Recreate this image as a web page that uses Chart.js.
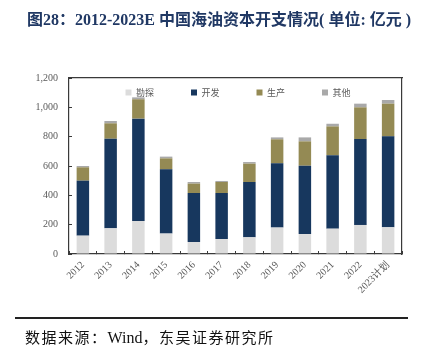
<!DOCTYPE html>
<html>
<head>
<meta charset="utf-8">
<script src="https://cdn.jsdelivr.net/npm/chart.js@4.4.0/dist/chart.umd.min.js"></script>
<style>
  html, body { margin: 0; padding: 0; background: #fff; }
  body { width: 429px; height: 351px; position: relative; overflow: hidden; }
  #wrap { position: absolute; left: 0; top: 0; width: 429px; height: 351px; }
  #title { position: absolute; left: 27px; top: 8px; white-space: nowrap; font-size: 16px; font-weight: bold; color: #203864; line-height: 20px; font-family: "Liberation Serif", "Noto Sans CJK SC", serif; }
  #title .cjk { font-family: "Noto Sans CJK SC", sans-serif; }
  #rule { position: absolute; left: 15px; top: 317px; width: 393px; height: 2px; background: #222; }
  #source { position: absolute; left: 25px; top: 327px; white-space: nowrap; font-size: 16px; color: #111; line-height: 20px; font-family: "Liberation Serif", "Noto Sans CJK SC", serif; }
  #source .cjk { font-family: "Noto Sans CJK SC", sans-serif; font-size: 15px; letter-spacing: 1.5px; }
</style>
</head>
<body>
<div id="wrap"><canvas id="c" width="429" height="351"></canvas></div>
<div id="title"><span class="cjk">图</span>28<span class="cjk">：</span>2012-2023E <span class="cjk">中国海油资本开支情况</span>( <span class="cjk">单位</span>: <span class="cjk">亿元</span> )</div>
<div id="rule"></div>
<div id="source"><span class="cjk">数据来源：</span>Wind<span class="cjk">，东吴证券研究所</span></div>
<script>
const categories = ['2012','2013','2014','2015','2016','2017','2018','2019','2020','2021','2022','2023计划'];
const exploration = [125,175,225,139,82,102,114,180,136,173,198,182];
const development = [375,611,698,438,334,314,377,438,466,500,586,620];
const production  = [91,105,132,75,64,75,125,164,166,197,216,223];
const other       = [9,16,13,12,11,7,11,13,27,18,25,25];
const seriesNames = ['勘探','开发','生产','其他'];
const yTicks = [0,200,400,600,800,1000,1200];

const colors = ['#dcdcdc','#17375e','#948a54','#a9a9a9'];
const seriesData = [exploration, development, production, other];

const datasets = seriesNames.map((n, i) => ({
  label: n,
  data: seriesData[i],
  backgroundColor: colors[i],
  borderWidth: 0,
  barPercentage: 0.45,
  categoryPercentage: 1.0,
  stack: 's'
}));

const axisColor = '#3a3a3a';
const tickFontY = { family: 'Liberation Serif', size: 10 };
const tickFontX = { family: "'Liberation Serif', 'Noto Sans CJK SC'", size: 10 };

// lay the in-plot legend out in one row across the plot area
const legendRow = {
  id: 'legendRow',
  afterInit(chart) {
    if (chart.legend) chart.legend.isHorizontal = () => true;
  },
  afterLayout(chart) {
    const lg = chart.legend, ca = chart.chartArea;
    if (!lg || !ca) return;
    const w = lg.width;
    lg.left = ca.left + 16;
    lg.right = lg.left + w;
    lg.top = ca.top;
  }
};

new Chart(document.getElementById('c'), {
  type: 'bar',
  data: { labels: categories, datasets },
  plugins: [legendRow],
  options: {
    responsive: false,
    animation: false,
    devicePixelRatio: 1,
    layout: { padding: { left: 0, right: 27, top: 0, bottom: 37 } },
    plugins: {
      title: { display: false },
      tooltip: { enabled: false },
      legend: {
        position: 'chartArea',
        align: 'center',
        labels: {
          boxWidth: 6,
          boxHeight: 6,
          padding: 10,
          color: '#595959',
          font: { family: "'Noto Sans CJK SC'", size: 9 },
          generateLabels: (chart) => chart.data.datasets.map((ds, i) => ({
            text: ds.label + '\u3000\u3000\u3000',
            fillStyle: ds.backgroundColor,
            strokeStyle: ds.backgroundColor,
            lineWidth: 0,
            hidden: false,
            datasetIndex: i,
            fontColor: '#595959'
          }))
        }
      }
    },
    scales: {
      x: {
        stacked: true,
        position: 'bottom',
        grid: { display: true, drawOnChartArea: false, drawTicks: true, tickLength: -3, color: axisColor, offset: true },
        border: { display: true, color: axisColor, width: 1.2 },
        ticks: { color: '#595959', font: tickFontX, minRotation: 45, maxRotation: 45, padding: 8, autoSkip: false },
        afterFit: (s) => { s.height = 60; }
      },
      x2: {
        position: 'top',
        display: true,
        grid: { display: false },
        ticks: { display: false },
        border: { display: true, color: axisColor, width: 1.2 },
        afterFit: (s) => { s.height = 78; }
      },
      y: {
        stacked: true,
        min: 0,
        max: 1200,
        afterBuildTicks: (s) => { s.ticks = yTicks.map(v => ({ value: v })); },
        grid: { display: true, drawOnChartArea: false, drawTicks: true, tickLength: -3, color: axisColor },
        border: { display: true, color: axisColor, width: 1.2 },
        ticks: {
          color: '#595959',
          font: tickFontY,
          padding: 14,
          callback: (v) => v.toLocaleString('en-US')
        },
        afterFit: (s) => { s.width = 69; }
      },
      y2: {
        position: 'right',
        display: true,
        grid: { display: false },
        ticks: { display: false },
        border: { display: true, color: axisColor, width: 1.2 },
        afterFit: (s) => { s.width = 0; }
      }
    }
  }
});
</script>
</body>
</html>
